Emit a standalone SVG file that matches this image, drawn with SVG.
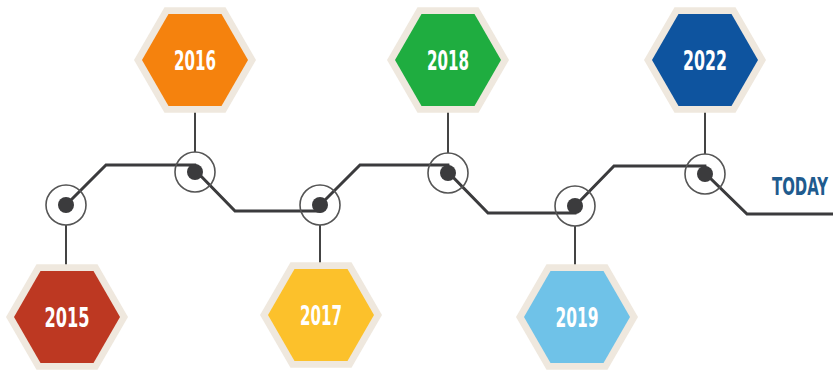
<svg xmlns="http://www.w3.org/2000/svg" width="833" height="370" viewBox="0 0 833 370">
  <style>
    .frame { fill: #efe8de; }
    .stem { stroke: #444444; stroke-width: 2; fill: none; }
    .ring { fill: none; stroke: #555555; stroke-width: 1.6; }
    .dot { fill: #3b3b3d; }
    .year { font-family: "Liberation Sans Narrow", "DejaVu Sans Condensed", "Liberation Sans", sans-serif; font-weight: bold; font-size: 26px; fill: #ffffff; text-anchor: middle; }
    .today { font-family: "Liberation Sans Narrow", "DejaVu Sans Condensed", "Liberation Sans", sans-serif; font-weight: bold; font-size: 20px; fill: #1f5b8e; }
  </style>
  <defs>
    <!-- flat-topped hexagons centred on the origin -->
    <polygon id="hexOuter" points="-61,0 -30.5,-52.8 30.5,-52.8 61,0 30.5,52.8 -30.5,52.8"/>
    <polygon id="hexInner" points="-53,0 -26.5,-45.9 26.5,-45.9 53,0 26.5,45.9 -26.5,45.9"/>
  </defs>
  <rect width="833" height="370" fill="#ffffff"/>

  <!-- timeline track and stems -->
  <g id="connectors">
    <polyline fill="none" stroke="#3b3b3d" stroke-width="3" stroke-linejoin="miter"
      points="66,205 106,165 195,165 197,172 235,211 320,211 320,205 360,165 448,165 449,173 488,213 575,213 575,206 614,166 705,166 706,174 747,214 833,214"/>
    <line class="stem" x1="66" y1="225" x2="66" y2="266"/>
    <line class="stem" x1="195" y1="112" x2="195" y2="152"/>
    <line class="stem" x1="320" y1="225" x2="320" y2="264"/>
    <line class="stem" x1="448" y1="112" x2="448" y2="153"/>
    <line class="stem" x1="575" y1="226" x2="575" y2="266"/>
    <line class="stem" x1="705" y1="112" x2="705" y2="154"/>
  </g>

  <!-- milestones on the track -->
  <g id="marker-2015"><circle class="ring" cx="66" cy="205" r="20"/><circle class="dot" cx="66" cy="205" r="8"/></g>
  <g id="marker-2016"><circle class="ring" cx="195" cy="172" r="20"/><circle class="dot" cx="195" cy="172" r="8"/></g>
  <g id="marker-2017"><circle class="ring" cx="320" cy="205" r="20"/><circle class="dot" cx="320" cy="205" r="8"/></g>
  <g id="marker-2018"><circle class="ring" cx="448" cy="173" r="20"/><circle class="dot" cx="448" cy="173" r="8"/></g>
  <g id="marker-2019"><circle class="ring" cx="575" cy="206" r="20"/><circle class="dot" cx="575" cy="206" r="8"/></g>
  <g id="marker-2022"><circle class="ring" cx="705" cy="174" r="20"/><circle class="dot" cx="705" cy="174" r="8"/></g>

  <!-- year badges -->
  <g id="node-2015" transform="translate(67,317)">
    <use href="#hexOuter" class="frame"/>
    <use href="#hexInner" fill="#bd3822"/>
    <text class="year" x="0" y="9.5" textLength="45" lengthAdjust="spacingAndGlyphs">2015</text>
  </g>
  <g id="node-2016" transform="translate(195,60)">
    <use href="#hexOuter" class="frame"/>
    <use href="#hexInner" fill="#f5820d"/>
    <text class="year" x="0" y="9.5" textLength="42" lengthAdjust="spacingAndGlyphs">2016</text>
  </g>
  <g id="node-2017" transform="translate(321,315)">
    <use href="#hexOuter" class="frame"/>
    <use href="#hexInner" fill="#fcc12b"/>
    <text class="year" x="0" y="9.5" textLength="42" lengthAdjust="spacingAndGlyphs">2017</text>
  </g>
  <g id="node-2018" transform="translate(448,60)">
    <use href="#hexOuter" class="frame"/>
    <use href="#hexInner" fill="#1fad40"/>
    <text class="year" x="0" y="9.5" textLength="42" lengthAdjust="spacingAndGlyphs">2018</text>
  </g>
  <g id="node-2019" transform="translate(577,317)">
    <use href="#hexOuter" class="frame"/>
    <use href="#hexInner" fill="#6fc2e8"/>
    <text class="year" x="0" y="9.5" textLength="43" lengthAdjust="spacingAndGlyphs">2019</text>
  </g>
  <g id="node-2022" transform="translate(705,60)">
    <use href="#hexOuter" class="frame"/>
    <use href="#hexInner" fill="#0e549f"/>
    <text class="year" x="0" y="9.5" textLength="44" lengthAdjust="spacingAndGlyphs">2022</text>
  </g>

  <g id="today" transform="translate(0,195) scale(1,1.2)">
    <text class="today" x="772" y="0" textLength="56" lengthAdjust="spacingAndGlyphs">TODAY</text>
  </g>
</svg>
